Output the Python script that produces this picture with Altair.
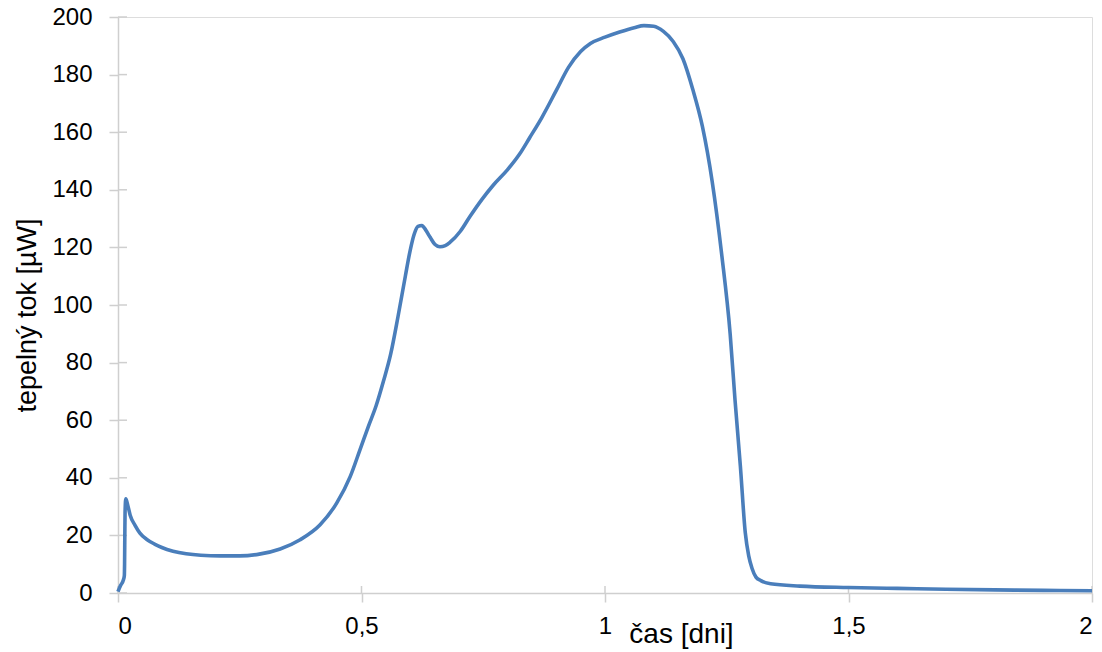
import altair as alt
import pandas as pd

# Heat flow curve: time in days, heat flow in microwatts
cas = [
    0.0, 0.005, 0.011, 0.013, 0.0135, 0.014, 0.0145, 0.016, 0.02, 0.025,
    0.035, 0.045, 0.06, 0.075, 0.09, 0.113, 0.14, 0.17, 0.21, 0.25,
    0.29, 0.333, 0.374, 0.415, 0.449, 0.477, 0.497, 0.514, 0.53, 0.545,
    0.56, 0.575, 0.59, 0.60, 0.608, 0.616, 0.624, 0.632, 0.641, 0.651,
    0.661, 0.672, 0.682, 0.703, 0.723, 0.747, 0.77, 0.80, 0.825, 0.845,
    0.87, 0.90, 0.925, 0.95, 0.97, 1.0, 1.03, 1.06, 1.08, 1.10,
    1.12, 1.14, 1.16, 1.18, 1.20, 1.22, 1.24, 1.257, 1.267, 1.278,
    1.288, 1.295, 1.302, 1.31, 1.32, 1.34, 1.40, 1.50, 1.60, 1.70,
    1.80, 1.90, 2.0,
]
tok = [
    0.5, 2.5, 4.5, 6.0, 10.0, 20.0, 28.0, 32.7, 30.5, 27.0,
    23.5, 20.8, 18.5, 17.0, 15.8, 14.5, 13.6, 13.1, 12.9, 12.9,
    13.5, 15.3, 18.5, 23.7, 31.2, 40.5, 49.8, 57.8, 65.0, 73.5,
    83.0, 96.0, 110.0, 119.0, 124.5, 127.3, 127.6, 126.0, 123.5, 121.0,
    120.2, 120.6, 121.8, 125.6, 130.8, 136.6, 141.5, 147.0, 152.5, 158.0,
    165.0, 174.5, 182.5, 188.0, 190.8, 193.0, 194.8, 196.3, 197.0, 196.8,
    195.0, 191.5, 185.5, 175.0, 162.0, 143.0, 117.0, 90.0, 67.0, 44.0,
    21.0, 13.0, 8.5, 5.5, 4.3, 3.2, 2.4, 1.9, 1.6, 1.3,
    1.1, 0.9, 0.8,
]

x_ticks = [0, 0.5, 1, 1.5, 2]
y_ticks = [0, 20, 40, 60, 80, 100, 120, 140, 160, 180, 200]

df = pd.DataFrame({"cas": cas, "tok": tok})
df_xt = pd.DataFrame({"xt": x_ticks})
df_yt = pd.DataFrame({"yt": y_ticks})

FONT = "Liberation Sans"
GRAY = "#cfcfcf"
W, H = 974, 576

x_scale = alt.Scale(domain=[0, 2], nice=False, zero=False)
y_scale = alt.Scale(domain=[0, 200], nice=False)

line = alt.Chart(df).mark_line(
    color="#4a7ebb", strokeWidth=3.6, interpolate="monotone"
).encode(
    x=alt.X(
        "cas:Q",
        scale=x_scale,
        axis=alt.Axis(
            values=x_ticks,
            labelExpr="replace(format(datum.value, '~g'), '.', ',')",
            grid=False,
            domainColor=GRAY,
            domainWidth=1.5,
            tickColor=GRAY,
            tickWidth=1.5,
            tickSize=9,
            labelPadding=12,
            labelFont=FONT,
            labelFontSize=24,
            labelColor="#000000",
            title="čas [dni]",
            titleFont=FONT,
            titleFontSize=28,
            titleFontWeight="normal",
            titleColor="#000000",
            titleAlign="center",
            titleBaseline="alphabetic",
            titleX=563,
            titleY=49,
        ),
    ),
    y=alt.Y(
        "tok:Q",
        scale=y_scale,
        axis=alt.Axis(
            values=y_ticks,
            grid=False,
            domainColor=GRAY,
            domainWidth=1.5,
            tickColor=GRAY,
            tickWidth=1.5,
            tickSize=9,
            labelPadding=17,
            labelFont=FONT,
            labelFontSize=24,
            labelColor="#000000",
            title="tepelný tok [µW]",
            titleFont=FONT,
            titleFontSize=27,
            titleFontWeight="normal",
            titleColor="#000000",
            titleAngle=270,
            titleAlign="center",
            titleBaseline="alphabetic",
            titleX=-83,
            titleY=298,
        ),
    ),
)

# inner halves of the tick marks, so that they cross the axis lines
x_cross = alt.Chart(df_xt).mark_rule(color=GRAY, strokeWidth=1.5).encode(
    x=alt.X("xt:Q", scale=x_scale),
    y=alt.value(H - 7),
    y2=alt.value(H),
)
y_cross = alt.Chart(df_yt).mark_rule(color=GRAY, strokeWidth=1.5).encode(
    y=alt.Y("yt:Q", scale=y_scale),
    x=alt.value(0),
    x2=alt.value(9),
)

chart = alt.layer(x_cross, y_cross, line).properties(
    width=W,
    height=H,
    autosize=alt.AutoSizeParams(type="none"),
    padding={"left": 118, "top": 17, "right": 10, "bottom": 59},
).configure_view(stroke=None).configure(background="white")

chart.save("out.html", embed_options={"renderer": "svg", "actions": False})
